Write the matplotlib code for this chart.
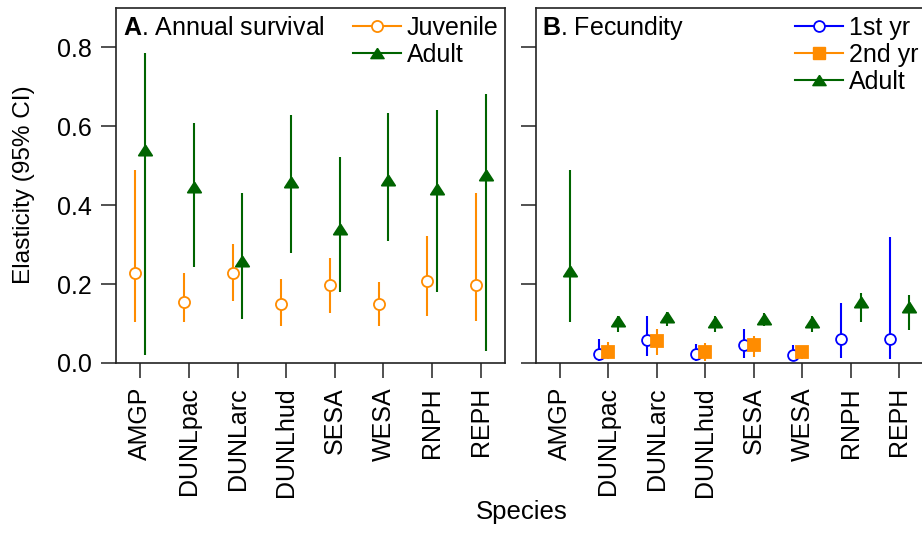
import numpy as np
import matplotlib.pyplot as plt
from matplotlib.lines import Line2D

plt.rcParams['font.family'] = 'Liberation Sans'
plt.rcParams['mathtext.fontset'] = 'custom'
plt.rcParams['mathtext.rm'] = 'Liberation Sans'
plt.rcParams['mathtext.bf'] = 'Liberation Sans:bold'

species = ["AMGP", "DUNLpac", "DUNLarc", "DUNLhud", "SESA", "WESA", "RNPH", "REPH"]

# Panel A: annual survival elasticity (estimate, lower, upper)
juv_mid = [0.229, 0.155, 0.229, 0.150, 0.197, 0.150, 0.208, 0.197]
juv_lo = [0.103, 0.103, 0.156, 0.095, 0.128, 0.095, 0.120, 0.107]
juv_hi = [0.489, 0.229, 0.301, 0.214, 0.265, 0.206, 0.321, 0.432]

adu_mid = [0.540, 0.446, 0.258, 0.459, 0.339, 0.465, 0.441, 0.477]
adu_lo = [0.021, 0.243, 0.112, 0.280, 0.181, 0.309, 0.181, 0.030]
adu_hi = [0.786, 0.608, 0.432, 0.629, 0.522, 0.633, 0.642, 0.681]

# Panel B: fecundity elasticity
nan = np.nan
yr1_mid = [nan, 0.024, 0.058, 0.024, 0.045, 0.021, 0.061, 0.061]
yr1_lo = [nan, 0.006, 0.017, 0.006, 0.013, 0.006, 0.013, 0.009]
yr1_hi = [nan, 0.061, 0.120, 0.048, 0.086, 0.045, 0.152, 0.320]

yr2_mid = [nan, 0.027, 0.057, 0.027, 0.045, 0.027, nan, nan]
yr2_lo = [nan, 0.009, 0.021, 0.005, 0.014, 0.009, nan, nan]
yr2_hi = [nan, 0.054, 0.086, 0.051, 0.069, 0.042, nan, nan]

fad_mid = [0.232, 0.106, 0.117, 0.104, 0.112, 0.104, 0.154, 0.143]
fad_lo = [0.103, 0.079, 0.095, 0.079, 0.095, 0.079, 0.103, 0.083]
fad_hi = [0.489, 0.120, 0.130, 0.118, 0.126, 0.118, 0.177, 0.173]

orange = "#FF8C00"
green = "#006400"
blue = "#0000FF"

# wide, R-style filled triangle
tri = [(0, 0.77), (-1, -0.77), (1, -0.77), (0, 0.77)]
tri_ms = 9.6

x = np.arange(1, len(species) + 1)


def draw_series(ax, xpos, mid, lo, hi, color, marker, ms, face):
    mid = np.array(mid, dtype=float)
    err = [mid - np.array(lo, dtype=float), np.array(hi, dtype=float) - mid]
    ax.errorbar(xpos, mid, yerr=err, fmt="none", ecolor=color,
                elinewidth=1.5, capsize=0, zorder=2)
    ax.plot(xpos, mid, linestyle="none", marker=marker, ms=ms, mfc=face,
            mec=color, mew=1.3, zorder=3)


def style_axes(ax, show_ylabels):
    ax.set_xlim(0.5, 8.5)
    ax.set_ylim(0, 0.9)
    ax.set_xticks(x)
    ax.set_xticklabels(species, rotation=90)
    ax.set_yticks([0.0, 0.2, 0.4, 0.6, 0.8])
    ax.set_yticklabels(["0.0", "0.2", "0.4", "0.6", "0.8"] if show_ylabels else [])
    ax.tick_params(direction="out", length=10.8, width=1.1, pad=6.5,
                   labelsize=18, colors="#222222", labelcolor="black")
    for s in ax.spines.values():
        s.set_linewidth(1.2)
        s.set_color("#222222")


fig = plt.figure(figsize=(9.22, 5.33), dpi=100)
W, H = 922, 533
axA = fig.add_axes([116 / W, 1 - 363 / H, 389 / W, 355 / H])
axB = fig.add_axes([535.7 / W, 1 - 363 / H, 388 / W, 355 / H])

# Panel A
draw_series(axA, x - 0.1, juv_mid, juv_lo, juv_hi, orange, "o", 8, "white")
draw_series(axA, x + 0.1, adu_mid, adu_lo, adu_hi, green, tri, tri_ms, green)
style_axes(axA, True)
axA.text(0.017, 0.924, r"$\mathbf{A}$. Annual survival", transform=axA.transAxes,
         fontsize=18, va="baseline", ha="left")

legA = [Line2D([], [], color=orange, marker="o", ms=8, mfc="white", mew=1.3, lw=1.5),
        Line2D([], [], color=green, marker=tri, ms=tri_ms, lw=1.5)]
fig.legend(legA, ["Juvenile", "Adult"], loc="upper left",
           bbox_to_anchor=(353 / W, 1 - 16 / H), bbox_transform=fig.transFigure,
           frameon=False, fontsize=18, handlelength=1.9, handletextpad=0.25,
           labelspacing=0.12, borderpad=0, borderaxespad=0)

# Panel B
draw_series(axB, x - 0.2, yr1_mid, yr1_lo, yr1_hi, blue, "o", 7.8, "white")
draw_series(axB, x, yr2_mid, yr2_lo, yr2_hi, orange, "s", 8.2, orange)
draw_series(axB, x + 0.2, fad_mid, fad_lo, fad_hi, green, tri, tri_ms, green)
style_axes(axB, False)
axB.text(0.017, 0.924, r"$\mathbf{B}$. Fecundity", transform=axB.transAxes,
         fontsize=18, va="baseline", ha="left")

legB = [Line2D([], [], color=blue, marker="o", ms=7.8, mfc="white", mew=1.3, lw=1.5),
        Line2D([], [], color=orange, marker="s", ms=8.2, lw=1.5),
        Line2D([], [], color=green, marker=tri, ms=tri_ms, lw=1.5)]
fig.legend(legB, ["1st yr", "2nd yr", "Adult"], loc="upper left",
           bbox_to_anchor=(795 / W, 1 - 16 / H), bbox_transform=fig.transFigure,
           frameon=False, fontsize=18, handlelength=1.9, handletextpad=0.25,
           labelspacing=0.12, borderpad=0, borderaxespad=0)

fig.text(24 / W, 1 - 185 / H, "Elasticity (95% CI)", rotation=90,
         ha="center", va="center", fontsize=17.6)
fig.text(522 / W, 1 - 512 / H, "Species", ha="center", va="center", fontsize=18.5)

fig.savefig("out.png", dpi=100)
